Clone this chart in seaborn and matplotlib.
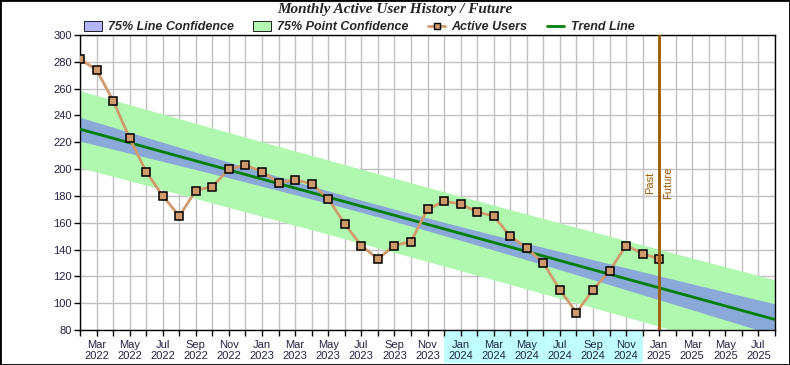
import numpy as np
import pandas as pd
import matplotlib
matplotlib.use("Agg")
import matplotlib.pyplot as plt
import seaborn as sns
from matplotlib.patches import Patch, Rectangle
from matplotlib.lines import Line2D
import matplotlib.transforms as mtransforms

# ---------------- data ----------------
months = pd.date_range("2022-02-01", "2025-08-01", freq="MS")  # axis months
active_users = [282, 274, 251, 223, 198, 180, 165, 184, 187, 200, 203, 198,
                190, 192, 189, 178, 159, 143, 133, 143, 146, 170, 176, 174,
                168, 165, 150, 141, 130, 110, 93, 110, 124, 143, 137, 133]
confidence_level = 0.75
t_value = 1.164          # two-sided 75% Student t, df = 34
highlight_start, highlight_end = "2023-12-01", "2024-12-01"   # 2024 label band
split_month = "2025-01-01"

# ---------------- compute regression ----------------
n = len(active_users)
x_hist = np.arange(n)
y_hist = np.array(active_users, dtype=float)
x_all = np.arange(len(months))
slope, intercept = np.polyfit(x_hist, y_hist, 1)
fit_all = intercept + slope * x_all
resid = y_hist - (intercept + slope * x_hist)
s = np.sqrt(np.sum(resid ** 2) / (n - 2))
xbar = x_hist.mean()
sxx = np.sum((x_hist - xbar) ** 2)
se_line = s * np.sqrt(1.0 / n + (x_all - xbar) ** 2 / sxx)
se_point = s * np.sqrt(1 + 1.0 / n + (x_all - xbar) ** 2 / sxx)

hist_df = pd.DataFrame({"x": x_hist, "users": y_hist})
trend_df = pd.DataFrame({"x": x_all, "trend": fit_all})

def idx(d):
    return int(np.where(months == pd.Timestamp(d))[0][0])

# ---------------- figure ----------------
sns.set_theme(style="white")
plt.rcParams["font.family"] = ["Liberation Sans", "DejaVu Sans"]

fig = plt.figure(figsize=(7.9, 3.65), dpi=100)
ax = fig.add_axes([80 / 790, 1 - 330 / 365, 695 / 790, 295 / 365])

green_band = "#b0f8b0"
blue_band = "#8aa8d8"

ax.fill_between(x_all, fit_all - t_value * se_point, fit_all + t_value * se_point,
                color=green_band, lw=0, zorder=1)
ax.fill_between(x_all, fit_all - t_value * se_line, fit_all + t_value * se_line,
                color=blue_band, lw=0, zorder=2)

sns.lineplot(data=trend_df, x="x", y="trend", ax=ax, color="#008000", lw=2, zorder=4)
sns.lineplot(data=hist_df, x="x", y="users", ax=ax, color="#d09a6c", lw=2,
             marker="s", markersize=5.5, markerfacecolor="#d09a6c",
             markeredgecolor="black", markeredgewidth=1.1, zorder=5)

xs = idx(split_month)
ax.axvline(xs, color="#a05a00", lw=2, zorder=6)
ax.text(xs - 0.25, 190, "Past", rotation=90, ha="right", va="center",
        color="#a05a00", fontsize=8)
ax.text(xs + 0.25, 190, "Future", rotation=90, ha="left", va="center",
        color="#a05a00", fontsize=8)

# cyan highlight under the 2024 labels
trans = mtransforms.blended_transform_factory(ax.transData, ax.transAxes)
ax.add_patch(Rectangle((idx(highlight_start), -0.112),
                       idx(highlight_end) - idx(highlight_start), 0.112,
                       transform=trans, color="#c0ffff", lw=0, clip_on=False, zorder=0))

ax.set_xlim(0, len(months) - 1)
ax.set_ylim(80, 300)
ax.set_xticks(x_all)
ax.set_xticklabels([m.strftime("%b\n%Y") if i % 2 == 1 else "" for i, m in enumerate(months)])
ax.set_yticks(np.arange(80, 301, 20))
ax.grid(True, color="#c0c0c0", lw=1, zorder=0)
ax.set_axisbelow(True)
ax.tick_params(axis="both", which="both", direction="out", length=4, width=1,
               color="black", labelsize=8, labelcolor="#222244", pad=2,
               bottom=True, left=True)
ax.tick_params(axis="x", pad=3)
for sp in ax.spines.values():
    sp.set_color("black")
    sp.set_linewidth(1)
    sp.set_visible(True)
ax.set_xlabel("")
ax.set_ylabel("")

fig.text(395 / 790, 1 - 10 / 365, "Monthly Active User History / Future",
         ha="center", va="center", fontsize=11, fontweight="bold", style="italic",
         family=["Liberation Serif", "DejaVu Serif"])

handles = [
    Patch(facecolor="#b4b4ff", edgecolor="black", lw=0.6),
    Patch(facecolor="#b4f8b4", edgecolor="black", lw=0.6),
    Line2D([0], [0], color="#d09a6c", lw=2, marker="s", markersize=4.5,
           markerfacecolor="#d09a6c", markeredgecolor="black"),
    Line2D([0], [0], color="#008000", lw=2),
]
labels = ["75% Line Confidence", "75% Point Confidence", "Active Users", "Trend Line"]
fig.legend(handles, labels, loc="center left", bbox_to_anchor=(84 / 790, 1 - 27 / 365),
           ncol=4, frameon=False, handlelength=1.4, handleheight=0.8,
           handletextpad=0.5, columnspacing=1.55, borderpad=0, borderaxespad=0,
           prop={"weight": "bold", "style": "italic", "size": 9})

fig.patches.append(Rectangle((0, 0), 1, 1, transform=fig.transFigure, fill=False,
                             edgecolor="black", lw=2, zorder=10))

fig.savefig("out.png", dpi=100)
